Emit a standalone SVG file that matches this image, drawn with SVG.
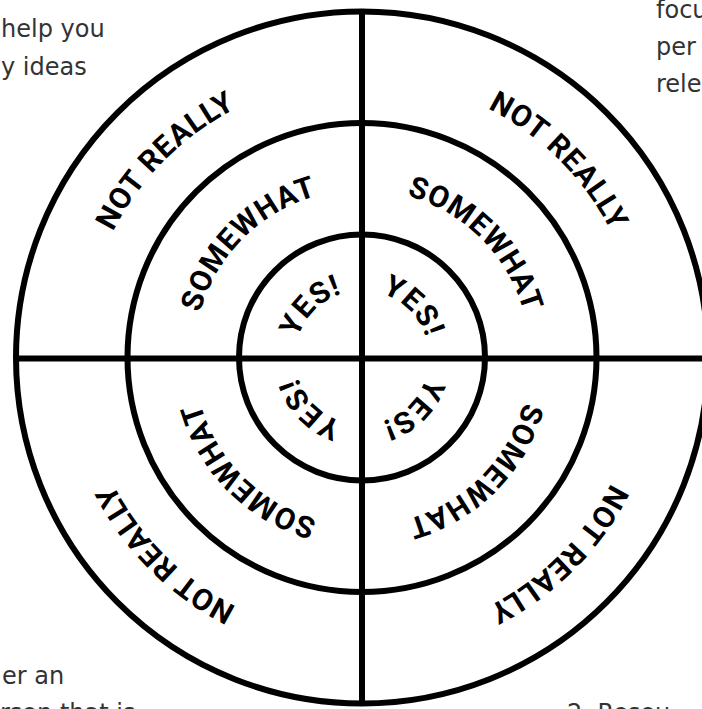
<svg xmlns="http://www.w3.org/2000/svg" width="702" height="709" viewBox="0 0 702 709">
  <style>
    .ring { fill: none; stroke: #000; stroke-width: 6; }
    .axis { stroke: #000; stroke-width: 6; }
    .lbl { font-family: Roboto, "Liberation Sans", sans-serif; font-weight: 700; font-size: 30px; fill: #000; letter-spacing: 0.8px; }
    .bg { font-family: "DejaVu Sans", "Liberation Sans", sans-serif; font-size: 24px; fill: #333; }
  </style>
  <defs>
    <path id="y-tl" d="M295,357.5 A67,67 0 0 1 362,290.5"/>
    <path id="y-tr" d="M362,290.5 A67,67 0 0 1 429,357.5"/>
    <path id="y-br" d="M429,357.5 A67,67 0 0 1 362,424.5"/>
    <path id="y-bl" d="M362,424.5 A67,67 0 0 1 295,357.5"/>
    <path id="s-tl" d="M194,357.5 A168,168 0 0 1 362,189.5"/>
    <path id="s-tr" d="M362,189.5 A168,168 0 0 1 530,357.5"/>
    <path id="s-br" d="M530,357.5 A168,168 0 0 1 362,525.5"/>
    <path id="s-bl" d="M362,525.5 A168,168 0 0 1 194,357.5"/>
    <path id="n-tl" d="M83,357.5 A279,279 0 0 1 362,78.5"/>
    <path id="n-tr" d="M362,78.5 A279,279 0 0 1 641,357.5"/>
    <path id="n-br" d="M641,357.5 A279,279 0 0 1 362,636.5"/>
    <path id="n-bl" d="M362,636.5 A279,279 0 0 1 83,357.5"/>
  </defs>
  <rect width="702" height="709" fill="#fff"/>

  <g id="background-text">
    <text class="bg" x="1" y="37">help you</text>
    <text class="bg" x="1" y="75">y ideas</text>
    <text class="bg" x="656" y="18">focu</text>
    <text class="bg" x="656" y="55">per</text>
    <text class="bg" x="656" y="92">rele</text>
    <text class="bg" x="2" y="684">er an</text>
    <text class="bg" x="0" y="721">rson that is</text>
    <text class="bg" x="567" y="721">2. Resou</text>
  </g>

  <g id="connectors">
    <line class="axis" x1="362" y1="11" x2="362" y2="704"/>
    <line class="axis" x1="14" y1="358.5" x2="702" y2="358.5"/>
  </g>

  <g id="ring-outer"><circle class="ring" cx="362" cy="357.5" r="346"/></g>
  <g id="ring-middle"><circle class="ring" cx="362" cy="357.5" r="234.5"/></g>
  <g id="ring-inner"><circle class="ring" cx="362" cy="357.5" r="123"/></g>

  <g id="yes-tl"><text class="lbl"><textPath href="#y-tl" startOffset="50%" text-anchor="middle">YES!</textPath></text></g>
  <g id="yes-tr"><text class="lbl"><textPath href="#y-tr" startOffset="50%" text-anchor="middle">YES!</textPath></text></g>
  <g id="yes-br"><text class="lbl"><textPath href="#y-br" startOffset="50%" text-anchor="middle">YES!</textPath></text></g>
  <g id="yes-bl"><text class="lbl"><textPath href="#y-bl" startOffset="50%" text-anchor="middle">YES!</textPath></text></g>

  <g id="somewhat-tl"><text class="lbl"><textPath href="#s-tl" startOffset="50%" text-anchor="middle">SOMEWHAT</textPath></text></g>
  <g id="somewhat-tr"><text class="lbl"><textPath href="#s-tr" startOffset="50%" text-anchor="middle">SOMEWHAT</textPath></text></g>
  <g id="somewhat-br"><text class="lbl"><textPath href="#s-br" startOffset="50%" text-anchor="middle">SOMEWHAT</textPath></text></g>
  <g id="somewhat-bl"><text class="lbl"><textPath href="#s-bl" startOffset="50%" text-anchor="middle">SOMEWHAT</textPath></text></g>

  <g id="notreally-tl"><text class="lbl"><textPath href="#n-tl" startOffset="50%" text-anchor="middle">NOT REALLY</textPath></text></g>
  <g id="notreally-tr"><text class="lbl"><textPath href="#n-tr" startOffset="50%" text-anchor="middle">NOT REALLY</textPath></text></g>
  <g id="notreally-br"><text class="lbl"><textPath href="#n-br" startOffset="50%" text-anchor="middle">NOT REALLY</textPath></text></g>
  <g id="notreally-bl"><text class="lbl"><textPath href="#n-bl" startOffset="50%" text-anchor="middle">NOT REALLY</textPath></text></g>
</svg>
